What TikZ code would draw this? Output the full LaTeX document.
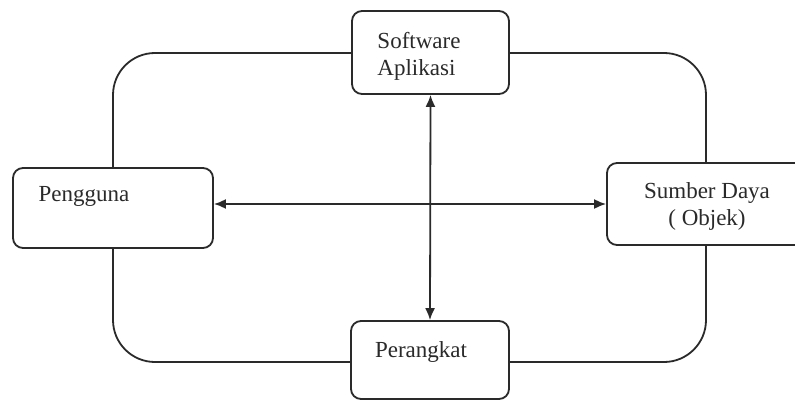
\documentclass[tikz,border=0pt]{standalone}
\usepackage{fontspec}
\setmainfont{Liberation Serif}
\usetikzlibrary{arrows.meta}
\definecolor{ink}{HTML}{2A2A2A}
\begin{document}
\begin{tikzpicture}[x=1pt,y=-1pt,
  box/.style={draw=ink,line width=1.8pt,fill=white,rounded corners=10pt,inner sep=0pt},
  lbl/.style={text=ink,font=\fontsize{23}{27}\selectfont,inner sep=0pt,align=left},
  link/.style={draw=ink,line width=1.8pt,{Latex[length=12pt,width=10pt]}-{Latex[length=12pt,width=10pt]}}]
\clip (0,0) rectangle (795,401);
\fill[white] (0,0) rectangle (795,401);
% outer loop
\draw[ink,line width=1.8pt,rounded corners=42pt] (113,53) rectangle (706,362);
% boxes
\node[box,minimum width=157pt,minimum height=83pt] (soft) at (430.5,52.5) {};
\node[box,minimum width=200pt,minimum height=80pt] (peng) at (113,208) {};
\node[box,minimum width=212pt,minimum height=82pt] (sumb) at (713,204) {};
\node[box,minimum width=158pt,minimum height=78pt] (pera) at (430,360) {};
% texts
\node[lbl] (tsoft) at (419,56) {Software\\Aplikasi};
\node[lbl] (tpeng) at (84,196) {Pengguna};
\node[lbl,align=center] (tsumb) at (707,206) {Sumber Daya\\( Objek)};
\node[lbl] (tpera) at (421,352) {Perangkat};
% arrows
\draw[link] (soft.south) -- (pera.north);
\draw[link] (peng.east |- sumb.west) -- (sumb.west);
\end{tikzpicture}
\end{document}
